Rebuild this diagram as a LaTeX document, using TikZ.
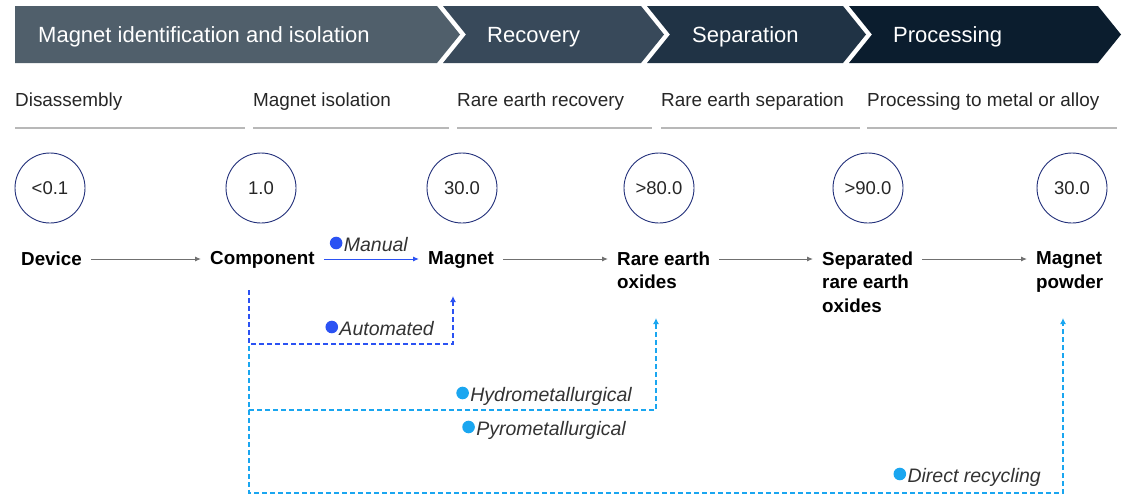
\documentclass[tikz,border=0pt]{standalone}
\usepackage{fontspec}
\setmainfont{Liberation Sans}
\usetikzlibrary{arrows.meta,positioning}

\definecolor{phaseA}{HTML}{505F6B}
\definecolor{phaseB}{HTML}{38495A}
\definecolor{phaseC}{HTML}{203345}
\definecolor{phaseD}{HTML}{0B1D2E}
\definecolor{rulegray}{HTML}{B8B8B8}
\definecolor{ringblue}{HTML}{22307A}
\definecolor{flowgray}{HTML}{707070}
\definecolor{manualblue}{HTML}{2B52F3}
\definecolor{directblue}{HTML}{1AA6F0}

\begin{document}
\begin{tikzpicture}[
  x=1pt, y=-1pt,
  phase/.style={anchor=base west, inner sep=0, text=white, font=\fontsize{22}{26}\selectfont},
  stage/.style={anchor=base west, inner sep=0, text=black!85, font=\fontsize{18.9}{23}\selectfont},
  rule/.style={draw=rulegray, line width=1.2pt},
  value/.style={circle, draw=ringblue, line width=0.9pt, minimum size=70pt, inner sep=0, text=black!85, font=\fontsize{18.5}{22}\selectfont},
  item/.style={anchor=north west, inner sep=0, align=left, font=\fontsize{18.8}{23.5}\selectfont\bfseries},
  flow/.style={draw=flowgray, line width=1pt, shorten <=9pt, shorten >=9pt, -{Latex[length=6pt,width=5pt]}},
  tag/.style={anchor=base east, inner sep=0, text=black!80, font=\fontsize{19.5}{22}\selectfont\itshape},
  route/.style={line width=1.2pt, dash pattern=on 5pt off 3pt, -{Latex[length=6pt,width=6pt]}}
]
\useasboundingbox (0,0) rectangle (1126,496);

% Phase banner
\fill[phaseA] (15,6) -- (437,6) -- (460,34.5) -- (437,63) -- (15,63) -- cycle;
\fill[phaseB] (443,6) -- (641,6) -- (664,34.5) -- (641,63) -- (443,63) -- (466,34.5) -- cycle;
\fill[phaseC] (647,6) -- (843,6) -- (866,34.5) -- (843,63) -- (647,63) -- (670,34.5) -- cycle;
\fill[phaseD] (849,6) -- (1098,6) -- (1121,34.5) -- (1098,63) -- (849,63) -- (872,34.5) -- cycle;
\node[phase] (ph_ident) at (38,42.5) {Magnet identification and isolation};
\node[phase] (ph_recov) at (487,42.5) {Recovery};
\node[phase] (ph_separ) at (692,42.5) {Separation};
\node[phase] (ph_proc) at (893,42.5) {Processing};

% Process steps
\node[stage] (st_dis) at (15,106) {Disassembly};
\node[stage] (st_iso) at (253,106) {Magnet isolation};
\node[stage] (st_rec) at (457,106) {Rare earth recovery};
\node[stage] (st_sep) at (661,106) {Rare earth separation};
\node[stage] (st_proc) at (867,106) {Processing to metal or alloy};
\foreach \a/\b in {15/245, 253/449, 457/652, 661/860, 867/1117}
  \draw[rule] (\a,128) -- (\b,128);

% Values
\node[value] (v_device) at (50,188) {<0.1};
\node[value] (v_comp) at (261,188) {1.0};
\node[value] (v_magnet) at (462,188) {30.0};
\node[value] (v_oxides) at (659,188) {>80.0};
\node[value] (v_sep) at (868,188) {>90.0};
\node[value] (v_powder) at (1072,188) {30.0};

% Materials
\node[item] (device) at (21,251.5) {Device};
\node[item] (component) at (210,251.5) {Component};
\node[item] (magnet) at (428,251.5) {Magnet};
\node[item] (oxides) at (617,251.5) {Rare earth\\oxides};
\node[item] (sep) at (822,251.5) {Separated\\rare earth\\oxides};
\node[item] (powder) at (1036,251.5) {Magnet\\powder};

% Main flow
\coordinate (row) at (0,259);
\draw[flow] (device.east |- row) -- (component.west |- row);
\draw[flow, draw=manualblue] (component.east |- row) -- (magnet.west |- row);
\draw[flow] (magnet.east |- row) -- (oxides.west |- row);
\draw[flow] (oxides.east |- row) -- (sep.west |- row);
\draw[flow] (sep.east |- row) -- (powder.west |- row);

% Recycling routes
\coordinate (branch) at (249,290);
\coordinate (to_magnet) at (453,296);
\coordinate (to_oxides) at (656,318);
\coordinate (to_powder) at (1063,318);
\draw[route, draw=directblue] (branch) -- ++(0,203) -| (to_powder);
\draw[route, draw=directblue] (branch) -- ++(0,120) -| (to_oxides);
\draw[route, draw=manualblue] (branch) -- ++(0,54) -| (to_magnet);

% Route labels
\node[tag] (t_manual) at (408,251) {Manual};
\node[tag] (t_auto) at (434,335) {Automated};
\node[tag] (t_hydro) at (632,401) {Hydrometallurgical};
\node[tag] (t_pyro) at (626,435) {Pyrometallurgical};
\node[tag] (t_direct) at (1041,482) {Direct recycling};
\fill[manualblue] ([shift={(-7.5pt,8pt)}]t_manual.base west) circle (6.3pt);
\fill[manualblue] ([shift={(-7.5pt,8pt)}]t_auto.base west) circle (6.3pt);
\fill[directblue] ([shift={(-7.5pt,8pt)}]t_hydro.base west) circle (6.3pt);
\fill[directblue] ([shift={(-7.5pt,8pt)}]t_pyro.base west) circle (6.3pt);
\fill[directblue] ([shift={(-7.5pt,8pt)}]t_direct.base west) circle (6.3pt);

\end{tikzpicture}
\end{document}
